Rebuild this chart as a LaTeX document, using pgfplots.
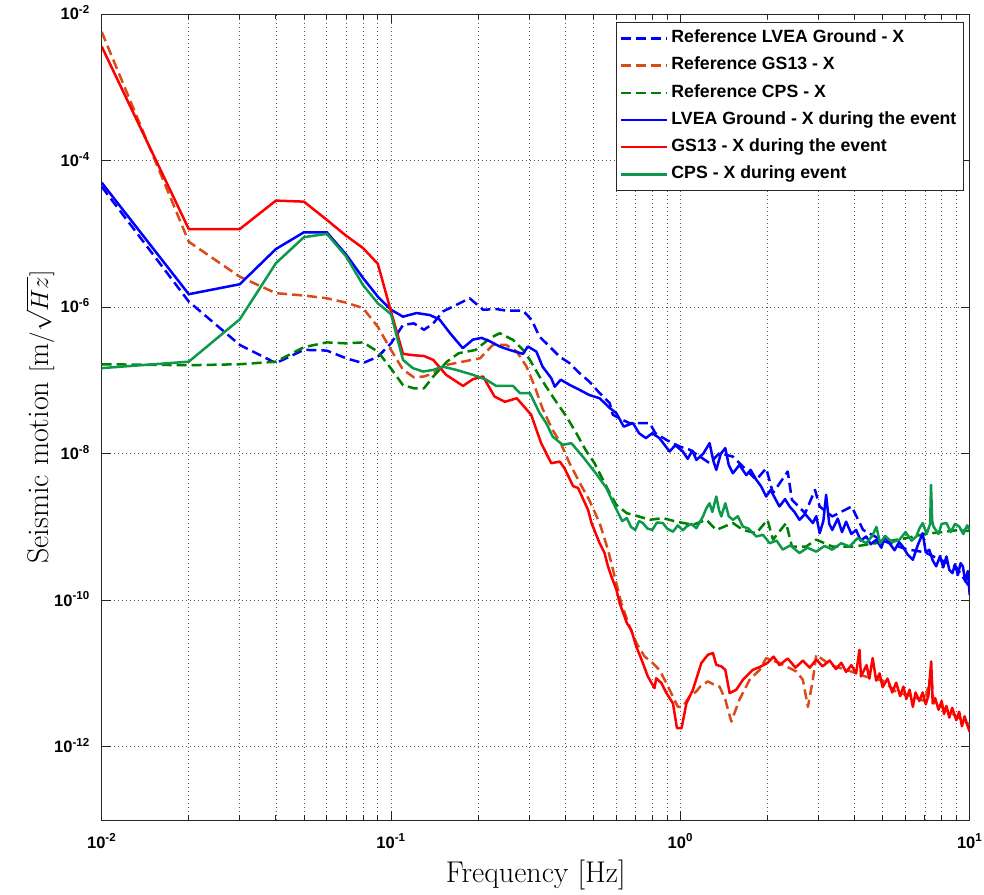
\documentclass[border=0pt]{standalone}
\usepackage{fontspec}
\newfontfamily\hv{Liberation Sans}
\usepackage{pgfplots}
\pgfplotsset{compat=1.18}
\definecolor{refred}{rgb}{0.85,0.3,0.1}
\definecolor{refgreen}{rgb}{0.0,0.5,0.0}
\definecolor{evgreen}{rgb}{0.05,0.6,0.3}
\tikzset{pl/.style={line width=2.5pt, line join=round}, dsh/.style={dash pattern=on 10pt off 5pt}}
\begin{document}
\begin{tikzpicture}
\path[use as bounding box] (-101.7pt,-74pt) rectangle (882.3pt,820pt);
\begin{axis}[
  at={(0pt,0pt)}, anchor=south west,
  scale only axis, width=868pt, height=806pt,
  xmode=log, ymode=log,
  xmin=0.01, xmax=10, ymin=1e-13, ymax=1e-2,
  xtick={0.01,0.1,1,10},
  xticklabels={10\textsuperscript{-2},10\textsuperscript{-1},10\textsuperscript{0},10\textsuperscript{1}},
  minor xtick={0.02,0.03,0.04,0.05,0.06,0.07,0.08,0.09,0.2,0.3,0.4,0.5,0.6,0.7,0.8,0.9,2,3,4,5,6,7,8,9},
  ytick={1e-12,1e-10,1e-8,1e-6,1e-4,1e-2},
  yticklabels={10\textsuperscript{-12},10\textsuperscript{-10},10\textsuperscript{-8},10\textsuperscript{-6},10\textsuperscript{-4},10\textsuperscript{-2}},
  yminorticks=false,
  xmajorgrids, xminorgrids, ymajorgrids,
  major grid style={black!65, line width=0.7pt, dash pattern=on 0.7pt off 3.3pt},
  minor grid style={black!65, line width=0.7pt, dash pattern=on 0.7pt off 3.3pt},
  tick align=inside,
  major tick length=9pt, minor tick length=5pt,
  tick style={black!85, line width=0.8pt},
  axis line style={black!85, line width=1pt},
  xticklabel style={font=\hv\bfseries\fontsize{16.5}{19}\selectfont, anchor=base, yshift=-28pt},
  yticklabel style={font=\hv\bfseries\fontsize{16.5}{19}\selectfont, anchor=base east, yshift=-5.9pt, xshift=-8.4pt},
  every axis x label/.style={at={(axis description cs:0.5,-0.0769)}, anchor=base, font=\fontsize{30}{36}\selectfont},
  every axis y label/.style={at={(axis description cs:-0.0711,0.5)}, rotate=90, anchor=center, font=\fontsize{30}{36}\selectfont},
  xlabel={Frequency [Hz]},
  ylabel={Seismic motion $[\mathrm{m}/\sqrt{Hz}]$},
  legend style={at={(axis description cs:1,1)}, anchor=north east, xshift=-6pt, yshift=-8pt,
    font=\hv\bfseries\fontsize{17.7}{21}\selectfont,
    draw=black!85, line width=0.8pt, fill=white,
    inner xsep=4pt, inner ysep=2.4pt, row sep=0pt,
    nodes={inner xsep=3pt, inner ysep=4.8pt, text height=13pt, text depth=4.6pt}},
  legend cell align=left,
  legend image code/.code={\draw[#1] (0pt,0pt) -- (46pt,0pt);},
]
% Reference LVEA Ground - X
\addplot[blue, pl, dsh] coordinates {
(0.01,4.4e-5) (0.02,1.19e-6) (0.03,3.05e-7) (0.04,1.72e-7) (0.05,2.61e-7) (0.06,2.55e-7) (0.07,2.0e-7) (0.08,1.72e-7) (0.09,2.1e-7) (0.10,3.2e-7)
(0.11,5.7e-7) (0.12,6.0e-7) (0.13,4.9e-7) (0.14,6.0e-7) (0.151,8.7e-7) (0.168,1.07e-6) (0.187,1.32e-6) (0.208,9.2e-7) (0.231,9.4e-7) (0.25,8.95e-7)
(0.286,8.95e-7) (0.306,6.7e-7) (0.326,3.96e-7) (0.353,2.9e-7) (0.383,2.1e-7) (0.414,1.72e-7) (0.449,1.25e-7) (0.485,9.6e-8) (0.526,6.7e-8) (0.57,4.9e-8)
(0.584,3.4e-8) (0.62,3.0e-8) (0.667,2.6e-8) (0.705,2.6e-8) (0.784,2.6e-8) (0.82,1.9e-8) (0.895,1.54e-8) (0.995,1.25e-8) (1.077,1.13e-8) (1.17,9.1e-9)
(1.262,7.4e-9) (1.367,1.02e-8) (1.519,9.1e-9) (1.69,6.0e-9) (1.83,4.4e-9) (1.98,6.3e-9) (2.09,2.9e-9) (2.35,5.7e-9) (2.43,2.34e-9) (2.70,1.54e-9)
(2.92,3.2e-9) (3.03,1.9e-9) (3.35,1.39e-9) (3.91,1.9e-9) (4.28,9.1e-10) (5.0,6.5e-10) (6.0,5.0e-10) (7.0,4.5e-10) (8.0,3.5e-10) (9.0,2.8e-10) (10,1.5e-10)
};
\addlegendentry{Reference LVEA Ground - X}
% Reference GS13 - X
\addplot[refred, pl, dsh] coordinates {
(0.01,5.7e-3) (0.02,7.8e-6) (0.03,2.6e-6) (0.04,1.55e-6) (0.05,1.44e-6) (0.06,1.32e-6) (0.07,1.15e-6) (0.08,9.7e-7) (0.09,5.4e-7) (0.10,2.6e-7)
(0.11,1.4e-7) (0.12,1.1e-7) (0.13,1.13e-7) (0.14,1.25e-7) (0.156,1.63e-7) (0.177,1.8e-7) (0.203,2.0e-7) (0.225,3.05e-7) (0.25,3.05e-7) (0.272,2.47e-7)
(0.294,1.54e-7) (0.314,8.2e-8) (0.334,4.1e-8) (0.362,2.1e-8) (0.386,1.39e-8) (0.414,7.4e-9) (0.449,4.0e-9) (0.485,2.3e-9) (0.526,1.13e-9) (0.562,4.9e-10)
(0.593,2.1e-10) (0.625,9.1e-11) (0.667,4.4e-11) (0.705,2.6e-11) (0.752,1.71e-11) (0.80,1.4e-11) (0.846,1.12e-11) (0.895,7.4e-12) (0.95,4.5e-12) (0.981,3.5e-12)
(1.02,3.5e-12) (1.077,4.9e-12) (1.136,5.7e-12) (1.17,6.6e-12) (1.245,7.8e-12) (1.31,7.0e-12) (1.367,6.6e-12) (1.43,4.4e-12) (1.50,2.2e-12) (1.60,4.4e-12)
(1.735,8.2e-12) (1.88,1.12e-11) (1.98,1.62e-11) (2.2,1.39e-11) (2.52,1.06e-11) (2.65,8.2e-12) (2.76,3.5e-12) (2.87,8.2e-12) (2.95,1.8e-11) (3.3,1.3e-11)
(3.8,1.1e-11) (4.4,9e-12) (5.0,8e-12) (5.6,5.5e-12) (6.2,5e-12) (7.0,4.2e-12) (7.36,1.0e-11) (7.5,4e-12) (8.3,3.2e-12) (9.0,2.6e-12) (10,2.0e-12)
};
\addlegendentry{Reference GS13 - X}
% Reference CPS - X
\addplot[refgreen, pl, dsh] coordinates {
(0.01,1.66e-7) (0.02,1.61e-7) (0.03,1.66e-7) (0.04,1.8e-7) (0.05,2.84e-7) (0.06,3.3e-7) (0.07,3.2e-7) (0.08,3.3e-7) (0.09,2.47e-7) (0.10,1.45e-7)
(0.11,8.6e-8) (0.12,7.8e-8) (0.13,7.8e-8) (0.14,1.13e-7) (0.156,1.8e-7) (0.1715,2.35e-7) (0.196,2.6e-7) (0.22,3.77e-7) (0.2375,4.4e-7) (0.264,3.57e-7)
(0.286,2.6e-7) (0.302,1.9e-7) (0.326,1.13e-7) (0.362,6.0e-8) (0.404,3.2e-8) (0.437,1.9e-8) (0.47,1.13e-8) (0.505,7.4e-9) (0.54,4.4e-9) (0.57,2.9e-9)
(0.601,2.0e-9) (0.653,1.54e-9) (0.705,1.42e-9) (0.784,1.25e-9) (0.87,1.32e-9) (0.968,1.18e-9) (1.105,1.07e-9) (1.23,1.25e-9) (1.331,9.1e-10) (1.519,1.13e-9)
(1.645,9.1e-10) (1.83,8.2e-10) (2.0,1.25e-9) (2.09,6.7e-10) (2.32,1.13e-9) (2.43,5.4e-10) (2.72,5.4e-10) (2.95,6.7e-10) (3.35,5.4e-10) (4.0,5.4e-10)
(5.0,6.2e-10) (6.0,7.0e-10) (7.0,8.0e-10) (8.0,8.5e-10) (9.0,9.0e-10) (10,8.8e-10)
};
\addlegendentry{Reference CPS - X}
% LVEA Ground - X during the event
\addplot[blue, pl] coordinates {
(0.01,5.0e-5) (0.02,1.5e-6) (0.03,2.05e-6) (0.04,6.2e-6) (0.05,1.05e-5) (0.06,1.05e-5) (0.07,5.2e-6) (0.08,2.5e-6) (0.09,1.39e-6) (0.10,9.2e-7)
(0.11,7.4e-7) (0.1225,8.3e-7) (0.136,7.8e-7) (0.147,6.8e-7) (0.16,4.4e-7) (0.177,2.75e-7) (0.192,3.6e-7) (0.2055,3.8e-7) (0.22,3.4e-7) (0.2375,2.9e-7)
(0.257,2.6e-7) (0.286,2.3e-7) (0.297,2.9e-7) (0.318,2.47e-7) (0.334,1.54e-7) (0.358,1.07e-7) (0.368,8.2e-8) (0.386,1.02e-7) (0.414,8.7e-8) (0.449,7.4e-8)
(0.485,6.3e-8) (0.526,5.7e-8) (0.57,4.2e-8) (0.601,3.57e-8) (0.637,2.34e-8) (0.686,2.61e-8) (0.72,1.9e-8) (0.76,1.63e-8) (0.80,1.9e-8) (0.846,1.63e-8) (0.918,1.07e-8)
(0.96,1.3e-8) (1.02,1.07e-8) (1.06,8.5e-9) (1.1,1.1e-8) (1.136,8.2e-9) (1.2,1.0e-8) (1.262,1.39e-8) (1.3,8e-9) (1.331,6.0e-9) (1.38,1.0e-8) (1.43,1.19e-8)
(1.47,7e-9) (1.519,5.4e-9) (1.6,7e-9) (1.69,5.1e-9) (1.75,6e-9) (1.83,4.4e-9) (1.9,3.6e-9) (1.98,2.6e-9) (2.05,3.2e-9) (2.2,1.9e-9) (2.3,2.4e-9)
(2.385,1.9e-9) (2.48,1.6e-9) (2.58,1.25e-9) (2.7,1.5e-9) (2.87,1.13e-9) (2.95,1.4e-9) (3.03,8.2e-10) (3.12,1.2e-9) (3.19,2.74e-9) (3.27,1.1e-9) (3.35,9.1e-10)
(3.5,1.3e-9) (3.62,8.5e-10) (3.74,1.18e-9) (3.9,8.0e-10) (4.05,9.1e-10) (4.2,6.5e-10) (4.39,7.4e-10) (4.55,5.8e-10) (4.76,6.7e-10) (4.95,5.2e-10) (5.1,7.5e-10)
(5.28,6.0e-10) (5.5,4.8e-10) (5.7,6.2e-10) (5.87,5.4e-10) (6.1,4.2e-10) (6.36,3.56e-10) (6.6,5.5e-10) (6.88,8.2e-10) (7.05,4.5e-10) (7.25,4.87e-10) (7.45,3.5e-10)
(7.66,2.9e-10) (7.9,4.0e-10) (8.1,2.8e-10) (8.31,3.95e-10) (8.5,2.6e-10) (8.72,2.34e-10) (8.9,3.1e-10) (9.1,2.2e-10) (9.3,3.2e-10) (9.47,2.9e-10) (9.65,1.8e-10)
(9.85,2.5e-10) (10,1.18e-10)
};
\addlegendentry{LVEA Ground - X during the event}
% GS13 - X during the event
\addplot[red, pl] coordinates {
(0.01,3.6e-3) (0.02,1.16e-5) (0.03,1.16e-5) (0.04,2.84e-5) (0.05,2.75e-5) (0.06,1.55e-5) (0.07,9.4e-6) (0.08,6.4e-6) (0.09,3.9e-6) (0.10,8.7e-7)
(0.11,2.3e-7) (0.12,2.2e-7) (0.13,2.15e-7) (0.14,1.9e-7) (0.155,1.19e-7) (0.1774,8.4e-8) (0.192,1.04e-7) (0.208,1.13e-7) (0.228,6.0e-8) (0.2475,5.1e-8)
(0.272,5.7e-8) (0.305,3.4e-8) (0.33,1.4e-8) (0.358,7.4e-9) (0.383,7.8e-9) (0.398,6.3e-9) (0.426,3.6e-9) (0.443,3.4e-9) (0.48,1.7e-9) (0.493,1.13e-9)
(0.526,6.0e-10) (0.547,4.4e-10) (0.562,2.9e-10) (0.578,2.1e-10) (0.601,1.39e-10) (0.617,9.1e-11) (0.653,4.9e-11) (0.677,3.9e-11) (0.705,2.3e-11) (0.742,1.39e-11)
(0.772,9.1e-12) (0.814,6.3e-12) (0.825,8.6e-12) (0.86,7.4e-12) (0.895,5.4e-12) (0.943,3.9e-12) (0.973,1.8e-12) (1.01,1.8e-12) (1.049,3.9e-12) (1.105,6.0e-12)
(1.182,1.39e-11) (1.245,1.8e-11) (1.296,1.9e-11) (1.331,1.31e-11) (1.385,1.25e-11) (1.43,1.12e-11) (1.48,5.4e-12) (1.561,6.0e-12) (1.645,8.2e-12) (1.78,1.12e-11)
(1.9,1.25e-11) (2.0,1.39e-11) (2.1,1.7e-11) (2.2,1.3e-11) (2.35,1.6e-11) (2.5,1.2e-11) (2.65,1.5e-11) (2.8,1.2e-11) (2.95,1.55e-11) (3.1,1.25e-11)
(3.28,1.5e-11) (3.45,1.15e-11) (3.6,1.4e-11) (3.74,1.05e-11) (3.9,1.3e-11) (4.05,1.0e-11) (4.16,2.1e-11) (4.21,9.1e-12) (4.4,1.3e-11) (4.5,8.5e-12)
(4.62,1.62e-11) (4.75,8e-12) (4.88,1.0e-11) (5.0,6.5e-12) (5.2,8.5e-12) (5.4,5.5e-12) (5.57,7.5e-12) (5.75,4.9e-12) (5.9,6.6e-12) (6.04,4.5e-12)
(6.2,6.0e-12) (6.36,3.5e-12) (6.5,5.5e-12) (6.7,4.2e-12) (6.88,5.5e-12) (7.05,3.8e-12) (7.2,5.0e-12) (7.36,1.46e-11) (7.45,3.9e-12) (7.6,4.6e-12)
(7.8,3.2e-12) (8.0,4.2e-12) (8.15,2.8e-12) (8.31,3.6e-12) (8.5,2.5e-12) (8.7,3.4e-12) (8.99,2.3e-12) (9.2,3.0e-12) (9.4,1.9e-12) (9.6,2.6e-12)
(9.8,2.0e-12) (10,1.6e-12)
};
\addlegendentry{GS13 - X during the event}
% CPS - X during event
\addplot[evgreen, pl] coordinates {
(0.01,1.47e-7) (0.02,1.8e-7) (0.03,6.8e-7) (0.04,3.97e-6) (0.05,9.0e-6) (0.06,1.0e-5) (0.07,4.9e-6) (0.08,2.0e-6) (0.09,1.13e-6) (0.10,8.0e-7)
(0.11,1.9e-7) (0.119,1.47e-7) (0.129,1.32e-7) (0.14,1.39e-7) (0.151,1.54e-7) (0.168,1.39e-7) (0.192,1.19e-7) (0.2135,1.02e-7) (0.231,8.4e-8) (0.264,8.4e-8)
(0.279,6.7e-8) (0.302,6.7e-8) (0.326,3.6e-8) (0.344,2.6e-8) (0.362,1.71e-8) (0.392,1.32e-8) (0.42,1.39e-8) (0.46,9.1e-9) (0.51,5.4e-9) (0.555,3.4e-9)
(0.584,2.2e-9) (0.61,1.54e-9) (0.63,1.2e-9) (0.653,1.32e-9) (0.675,1.0e-9) (0.698,9.1e-10) (0.72,1.2e-9) (0.742,1.13e-9) (0.77,9.5e-10) (0.80,9.1e-10)
(0.83,1.15e-9) (0.87,1.13e-9) (0.9,9.5e-10) (0.943,8.6e-10) (0.98,1.05e-9) (1.02,9e-10) (1.049,1.01e-9) (1.09,1.1e-9) (1.136,9.6e-10) (1.197,1.39e-9)
(1.23,1.8e-9) (1.262,2.1e-9) (1.29,1.6e-9) (1.331,2.6e-9) (1.36,1.7e-9) (1.385,1.39e-9) (1.43,2.1e-9) (1.47,1.4e-9) (1.519,1.25e-9) (1.58,1.4e-9)
(1.645,1.01e-9) (1.72,9.5e-10) (1.83,7.4e-10) (1.93,7.8e-10) (2.035,6.0e-10) (2.15,6.5e-10) (2.26,4.9e-10) (2.4,5.6e-10) (2.58,4.4e-10) (2.75,5.2e-10)
(2.95,4.6e-10) (3.15,5.5e-10) (3.35,4.9e-10) (3.6,6.0e-10) (3.84,5.4e-10) (4.1,7.0e-10) (4.39,6.0e-10) (4.6,7.5e-10) (4.76,1.0e-9) (4.9,6.0e-10)
(5.1,7.5e-10) (5.4,6.2e-10) (5.72,6.7e-10) (6.0,8.5e-10) (6.3,6.5e-10) (6.54,7.4e-10) (6.7,9.5e-10) (6.88,1.13e-9) (7.1,8.0e-10) (7.3,1.1e-9)
(7.35,3.76e-9) (7.42,1.2e-9) (7.5,1.01e-9) (7.8,8.0e-10) (8.0,1.1e-9) (8.31,1.13e-9) (8.6,8.5e-10) (8.9,1.1e-9) (9.2,1.01e-9) (9.5,8.0e-10)
(9.8,1.05e-9) (10,9.1e-10)
};
\addlegendentry{CPS - X during event}
\end{axis}
\end{tikzpicture}
\end{document}
